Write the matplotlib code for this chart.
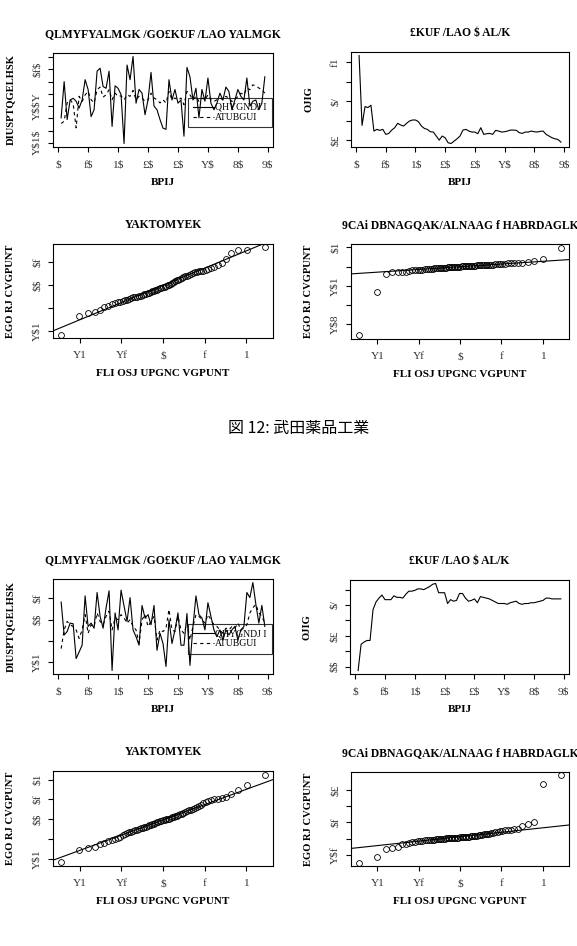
import numpy as np
import matplotlib
matplotlib.use("Agg")
import matplotlib.pyplot as plt
from statistics import NormalDist

plt.rcParams["text.parse_math"] = False

# ---------------- data ----------------
time_ticks = [0, 10, 20, 30, 40, 50, 60, 70]
time_ticklabels = ["$", "f$", "1$", "£$", "£$", "Y$", "8$", "9$"]
qq_ticks = [-2, -1, 0, 1, 2]
qq_ticklabels = ["Y1", "Yf", "$", "f", "1"]

f1_actual = [-0.098, 0.050, -0.105, -0.025, -0.018, -0.030, -0.058, -0.025, 0.058, 0.018,
             -0.093, -0.065, 0.093, 0.105, 0.030, 0.023, 0.093, -0.133, 0.033, 0.023,
             -0.003, -0.203, 0.118, 0.058, 0.153, -0.038, 0.018, 0.003, -0.085, -0.025,
             0.088, -0.050, -0.065, -0.105, -0.140, -0.145, 0.058, -0.025, 0.018, -0.038,
             -0.025, -0.173, 0.108, 0.070, -0.025, 0.023, -0.098, 0.018, -0.030, 0.065,
             -0.038, -0.065, -0.038, 0.003, -0.025, 0.028, 0.010, -0.065, -0.025, 0.018,
             -0.010, -0.025, 0.065, -0.050, -0.030, -0.025, -0.065, -0.038, 0.070]
f1_fitted = [-0.121, -0.112, -0.037, -0.024, -0.040, -0.139, -0.010, -0.031, -0.004, 0.010,
             -0.024, -0.037, 0.017, 0.028, -0.013, -0.004, 0.017, -0.024, 0.003, -0.010,
             -0.008, -0.024, -0.004, -0.010, 0.014, -0.024, -0.010, -0.017, -0.031, -0.024,
             0.003, -0.017, -0.024, -0.037, -0.024, -0.037, 0.010, -0.024, -0.017, -0.024,
             -0.017, -0.044, 0.010, -0.004, -0.024, -0.010, -0.031, -0.017, -0.024, -0.004,
             -0.024, -0.031, -0.024, -0.017, -0.024, -0.010, -0.017, -0.031, -0.024, -0.010,
             0.003, -0.004, 0.024, 0.017, 0.037, 0.033, 0.024, 0.017, 0.003]
f1_rolling = [0.1268, 0.0554, 0.0746, 0.0736, 0.0760, 0.0496, 0.0513, 0.0503, 0.0513, 0.0462,
              0.0472, 0.0506, 0.0530, 0.0575, 0.0558, 0.0547, 0.0575, 0.0599, 0.0609, 0.0609,
              0.0592, 0.0547, 0.0523, 0.0513, 0.0489, 0.0486, 0.0445, 0.0403, 0.0445, 0.0427,
              0.0376, 0.0369, 0.0393, 0.0417, 0.0445, 0.0506, 0.0513, 0.0496, 0.0486, 0.0486,
              0.0469, 0.0530, 0.0462, 0.0469, 0.0472, 0.0462, 0.0503, 0.0496, 0.0486, 0.0489,
              0.0496, 0.0506, 0.0506, 0.0503, 0.0479, 0.0472, 0.0486, 0.0486, 0.0496, 0.0489,
              0.0486, 0.0493, 0.0496, 0.0462, 0.0445, 0.0427, 0.0417, 0.0410, 0.0383]
f1_qq_a = [-0.214, -0.132, -0.121, -0.118, -0.106, -0.095, -0.089, -0.082, -0.078, -0.074,
           -0.071, -0.068, -0.066, -0.063, -0.060, -0.057, -0.053, -0.051, -0.049, -0.047,
           -0.045, -0.042, -0.040, -0.037, -0.034, -0.032, -0.029, -0.027, -0.024, -0.021,
           -0.019, -0.017, -0.014, -0.012, -0.009, -0.006, -0.003, 0.000, 0.003, 0.006,
           0.009, 0.013, 0.017, 0.021, 0.024, 0.027, 0.030, 0.034, 0.038, 0.042,
           0.046, 0.050, 0.054, 0.057, 0.059, 0.060, 0.062, 0.063, 0.066, 0.070,
           0.075, 0.080, 0.087, 0.095, 0.116, 0.138, 0.155, 0.155, 0.164]
f1_qq_b = [-0.716, -0.265, -0.080, -0.058, -0.056, -0.055, -0.052, -0.045, -0.040, -0.037,
           -0.035, -0.032, -0.030, -0.028, -0.026, -0.024, -0.022, -0.020, -0.019, -0.017,
           -0.016, -0.014, -0.013, -0.012, -0.010, -0.009, -0.008, -0.007, -0.005, -0.004,
           -0.003, -0.002, -0.001, 0.000, 0.001, 0.002, 0.003, 0.004, 0.005, 0.006,
           0.007, 0.008, 0.009, 0.010, 0.011, 0.012, 0.013, 0.014, 0.015, 0.016,
           0.017, 0.018, 0.019, 0.021, 0.022, 0.024, 0.026, 0.028, 0.030, 0.032,
           0.034, 0.036, 0.038, 0.040, 0.042, 0.045, 0.063, 0.077, 0.199]

f2_actual = [0.083, -0.072, -0.056, -0.016, -0.019, -0.183, -0.152, -0.120, 0.112, -0.032,
             -0.016, -0.040, 0.128, 0.016, -0.040, 0.056, 0.136, -0.239, 0.032, -0.048,
             0.139, 0.064, -0.008, 0.104, -0.048, -0.080, -0.120, 0.067, 0.008, 0.024,
             -0.024, 0.067, -0.144, -0.064, -0.112, -0.220, 0.000, -0.112, -0.048, 0.032,
             -0.120, -0.120, 0.029, -0.215, -0.032, 0.112, 0.024, 0.008, -0.048, 0.080,
             0.016, -0.048, -0.080, -0.048, -0.096, -0.048, -0.072, -0.048, -0.032, -0.096,
             -0.048, -0.032, 0.128, 0.104, 0.175, 0.072, -0.016, 0.067, -0.032]
f2_fitted = [-0.136, -0.048, -0.008, -0.024, -0.032, -0.048, -0.088, -0.048, 0.024, -0.064,
             -0.024, -0.032, 0.032, -0.008, -0.024, 0.016, 0.040, -0.048, 0.008, 0.000,
             0.024, 0.008, -0.016, 0.000, -0.032, -0.048, -0.112, 0.000, 0.024, -0.032,
             -0.008, 0.016, -0.096, -0.048, -0.056, -0.040, 0.048, -0.048, -0.056, 0.016,
             -0.048, -0.064, -0.016, -0.096, -0.032, 0.024, 0.016, 0.000, -0.016, 0.024,
             0.000, -0.024, -0.032, -0.048, -0.064, -0.040, -0.048, -0.032, -0.040, -0.016,
             -0.048, -0.040, -0.024, 0.032, 0.056, 0.072, 0.032, 0.016, -0.016]
f2_rolling = [-0.005, 0.029, 0.032, 0.034, 0.034, 0.074, 0.084, 0.089, 0.093, 0.087,
              0.087, 0.087, 0.092, 0.090, 0.090, 0.089, 0.094, 0.098, 0.098, 0.099,
              0.101, 0.101, 0.100, 0.102, 0.104, 0.107, 0.108, 0.096, 0.096, 0.096,
              0.082, 0.087, 0.085, 0.086, 0.095, 0.095, 0.089, 0.085, 0.086, 0.088,
              0.083, 0.091, 0.090, 0.089, 0.088, 0.086, 0.084, 0.082, 0.082, 0.082,
              0.081, 0.083, 0.084, 0.085, 0.082, 0.081, 0.082, 0.082, 0.083, 0.083,
              0.084, 0.085, 0.086, 0.089, 0.089, 0.088, 0.088, 0.088, 0.088]
f2_qq_a = [-0.218, -0.155, -0.146, -0.141, -0.127, -0.118, -0.110, -0.103, -0.097, -0.092,
           -0.087, -0.081, -0.075, -0.070, -0.066, -0.062, -0.058, -0.055, -0.052, -0.049,
           -0.046, -0.043, -0.040, -0.037, -0.034, -0.031, -0.028, -0.025, -0.022, -0.019,
           -0.016, -0.013, -0.010, -0.007, -0.005, -0.003, -0.001, 0.001, 0.004, 0.007,
           0.010, 0.013, 0.016, 0.019, 0.022, 0.025, 0.029, 0.033, 0.037, 0.041,
           0.045, 0.049, 0.053, 0.058, 0.063, 0.068, 0.074, 0.080, 0.086, 0.094,
           0.098, 0.101, 0.104, 0.108, 0.113, 0.130, 0.148, 0.175, 0.226]
f2_qq_b = [-0.148, -0.111, -0.062, -0.056, -0.055, -0.036, -0.032, -0.029, -0.024, -0.020,
           -0.017, -0.015, -0.013, -0.011, -0.010, -0.009, -0.008, -0.007, -0.006, -0.005,
           -0.004, -0.003, -0.002, -0.001, 0.000, 0.001, 0.002, 0.003, 0.004, 0.004,
           0.005, 0.005, 0.006, 0.006, 0.007, 0.008, 0.008, 0.009, 0.010, 0.011,
           0.012, 0.013, 0.014, 0.015, 0.016, 0.018, 0.020, 0.022, 0.024, 0.026,
           0.028, 0.030, 0.031, 0.033, 0.035, 0.038, 0.041, 0.045, 0.048, 0.050,
           0.052, 0.054, 0.059, 0.062, 0.078, 0.088, 0.103, 0.340, 0.390]

# titles / labels (as they appear in the reference)
title_ts = "QLMYFYALMGK /GO£KUF /LAO YALMGK"
title_roll = "£KUF /LAO $ AL/K"
title_qq1 = "YAKTOMYEK"
title_qq2 = "9CAi DBNAGQAK/ALNAAG f HABRDAGLK"
ylab_ts = "DIUSPTQGELHSK"
ylab_roll = "OJIG"
ylab_qq = "EGO RJ CVGPUNT"
xlab_time = "BPIJ"
xlab_qq = "FLI OSJ UPGNC VGPUNT"
legend_labels = ["QHYGNDJ I", "ATUBGUI"]
caption = "図 12: 武田薬品工業"

# y ticks (value, label) per panel
yt_f1_ts = ([-0.20, -0.15, -0.10, -0.05, 0.00, 0.05, 0.10, 0.15],
            ["Y$1$", "", "", "Y$$Y", "", "", "$f$", ""])
yt_f1_roll = ([0.04, 0.06, 0.08, 0.10, 0.12], ["$£", "", "$/", "", "f1"])
yt_f1_qqa = ([-0.2, -0.1, 0.0, 0.1], ["Y$1", "", "$$", "$f"])
yt_f1_qqb = ([-0.6, -0.4, -0.2, 0.0, 0.2], ["Y$8", "", "Y$1", "", "$1"])
yt_f2_ts = ([-0.2, -0.1, 0.0, 0.1], ["Y$1", "", "$$", "$f"])
yt_f2_roll = ([0.00, 0.02, 0.04, 0.06, 0.08, 0.10], ["$$", "", "$£", "", "$/", ""])
yt_f2_qqa = ([-0.2, -0.1, 0.0, 0.1, 0.2], ["Y$1", "", "$$", "$f", "$1"])
yt_f2_qqb = ([-0.1, 0.0, 0.1, 0.2, 0.3], ["Y$f", "", "$f", "", "$£"])

# ---------------- figure ----------------
W, H = 577, 946
fig = plt.figure(figsize=(W / 100, H / 100), dpi=100)
SERIF = ["Liberation Serif", "DejaVu Serif"]
TICK_COLOR = "#333333"


def rect(l, r, t, b):
    return [l / W, 1 - b / H, (r - l) / W, (b - t) / H]


def style(ax, title, xlabel, ylabel, xticks, xticklabels, yt, axw, axh):
    ax.margins(x=0.04, y=0.04)
    for s in ax.spines.values():
        s.set_linewidth(0.8)
    ax.set_xticks(xticks)
    ax.set_xticklabels(xticklabels, fontsize=8.2, family=SERIF, color=TICK_COLOR)
    ax.set_yticks(yt[0])
    ax.set_yticklabels(yt[1], fontsize=8.2, family=SERIF, rotation=90, va="center",
                       color=TICK_COLOR)
    ax.tick_params(axis="x", length=3.6, width=0.8, pad=6)
    ax.tick_params(axis="y", length=3.6, width=0.8, pad=4.5)
    ax.set_title(title, fontsize=8.4, family=SERIF, fontweight="bold", pad=11.5)
    ax.set_xlabel(xlabel, fontsize=8.0, family=SERIF, fontweight="bold")
    ax.set_ylabel(ylabel, fontsize=7.6, family=SERIF, fontweight="bold")
    ax.xaxis.set_label_coords(0.5, -31 / axh)
    ax.yaxis.set_label_coords(-38 / axw, 0.5)


def ts_panel(r, actual, fitted, yt):
    ax = fig.add_axes(rect(*r))
    x = np.arange(1, len(actual) + 1)
    ax.plot(x, actual, color="black", lw=0.8, label=legend_labels[0])
    ax.plot(x, fitted, color="black", lw=0.8, ls=(0, (3, 3)), label=legend_labels[1])
    style(ax, title_ts, xlab_time, ylab_ts, time_ticks, time_ticklabels, yt,
          r[1] - r[0], r[3] - r[2])
    leg = ax.legend(loc="upper right", bbox_to_anchor=(0.995, 0.525),
                    prop={"family": SERIF, "size": 7}, handlelength=2.1,
                    handletextpad=0.15, labelspacing=0.1, borderpad=0.55,
                    fancybox=False, borderaxespad=0)
    fr = leg.get_frame()
    fr.set_facecolor("none")
    fr.set_edgecolor("black")
    fr.set_linewidth(0.8)
    return ax


def roll_panel(r, vals, yt):
    ax = fig.add_axes(rect(*r))
    x = np.arange(1, len(vals) + 1)
    ax.plot(x, vals, color="black", lw=0.8)
    style(ax, title_roll, xlab_time, ylab_roll, time_ticks, time_ticklabels, yt,
          r[1] - r[0], r[3] - r[2])
    return ax


def qq_panel(r, sample, title, yt):
    ax = fig.add_axes(rect(*r))
    s = np.sort(np.asarray(sample))
    n = len(s)
    nd = NormalDist()
    q = np.array([nd.inv_cdf((i - 0.5) / n) for i in range(1, n + 1)])
    ax.plot(q, s, ls="none", marker="o", mfc="none", mec="black", ms=4.2, mew=0.6)
    y1, y2 = np.percentile(s, [25, 75])
    x1, x2 = nd.inv_cdf(0.25), nd.inv_cdf(0.75)
    ax.axline((x1, y1), (x2, y2), color="black", lw=0.8)
    style(ax, title, xlab_qq, ylab_qq, qq_ticks, qq_ticklabels, yt,
          r[1] - r[0], r[3] - r[2])
    return ax


# figure 1
ts_panel((53, 273, 53, 147), f1_actual, f1_fitted, yt_f1_ts)
roll_panel((351, 569, 52, 147), f1_rolling, yt_f1_roll)
qq_panel((53, 273, 244, 338), f1_qq_a, title_qq1, yt_f1_qqa)
qq_panel((351, 569, 244, 339), f1_qq_b, title_qq2, yt_f1_qqb)

fig.text(299 / W, 1 - 428 / H, caption, ha="center", va="center", fontsize=11.5,
         family=["Noto Sans CJK JP", "DejaVu Sans"])

# figure 2
ts_panel((53, 273, 579, 674), f2_actual, f2_fitted, yt_f2_ts)
roll_panel((350, 569, 580, 674), f2_rolling, yt_f2_roll)
qq_panel((53, 273, 771, 866), f2_qq_a, title_qq1, yt_f2_qqa)
qq_panel((351, 569, 772, 866), f2_qq_b, title_qq2, yt_f2_qqb)

fig.savefig("out.png", dpi=100)
